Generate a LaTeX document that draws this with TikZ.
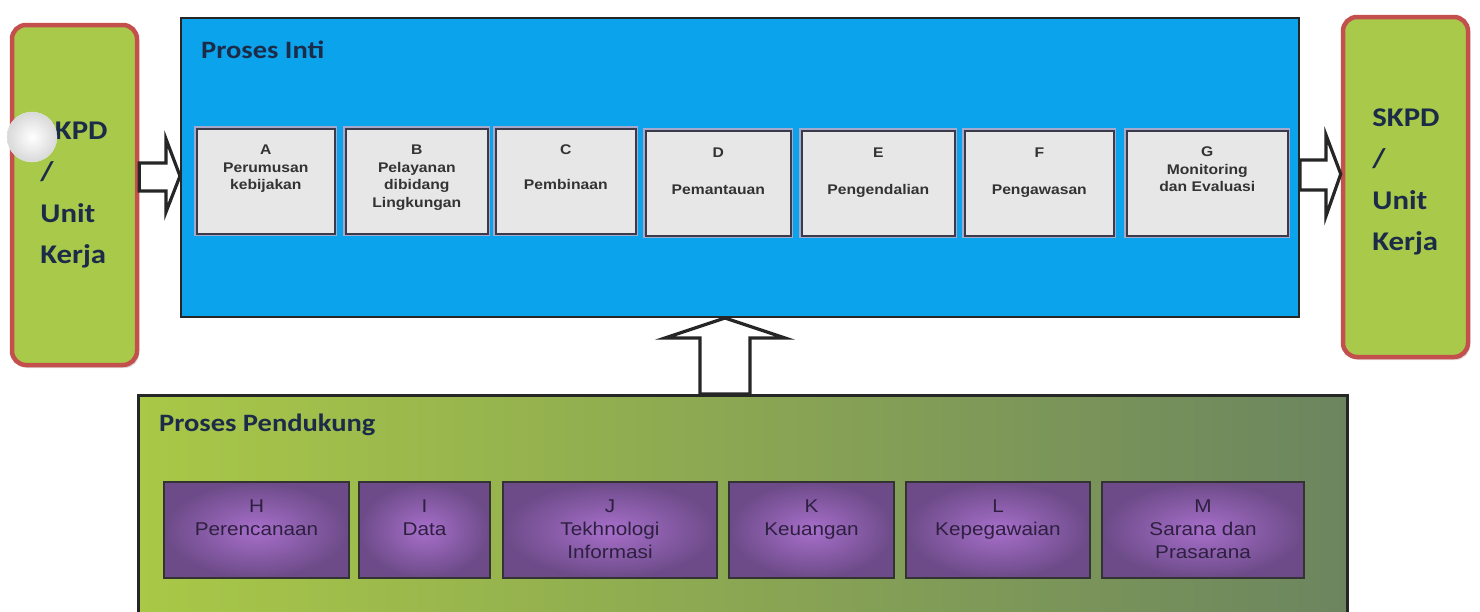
\documentclass[tikz,border=0pt]{standalone}
\usepackage{fontspec}
\setmainfont{Liberation Sans}
\newfontfamily\titlefont[FakeStretch=1.14]{Carlito}
\newfontfamily\boxfont[FakeStretch=1.12]{Liberation Sans}
\usetikzlibrary{calc,shadows}
\definecolor{lgreen}{HTML}{A9C94B}
\definecolor{lred}{HTML}{C4504E}
\definecolor{skyb}{HTML}{0BA3EC}
\definecolor{navy}{HTML}{1C2C48}
\definecolor{boxgray}{HTML}{E7E7E7}
\definecolor{boxedge}{HTML}{3A3A4A}
\definecolor{lav}{HTML}{A6A8CC}
\definecolor{purp}{HTML}{A86FCB}
\definecolor{purpdk}{HTML}{6C4B88}
\definecolor{ptext}{HTML}{2E2040}
\definecolor{pgreenL}{HTML}{A9C847}
\definecolor{pgreenR}{HTML}{6C855F}
\tikzset{
  sidebox/.style={rounded corners=14pt, draw=lred, line width=4.5pt, fill=lgreen,
    drop shadow={opacity=0.25, shadow xshift=2pt, shadow yshift=-3pt},
    minimum width=125, minimum height=340, inner sep=0pt},
  sidetext/.style={align=left, text=navy, font=\titlefont\bfseries\fontsize{27}{41.5}\selectfont, inner sep=0pt},
  titletext/.style={anchor=west, text=navy, font=\titlefont\bfseries\fontsize{25}{30}\selectfont, inner sep=0pt},
  pbox/.style={anchor=north west, draw=boxedge, line width=1.6pt, fill=boxgray,
    preaction={draw=lav, line width=5pt}, minimum height=105, inner sep=0pt},
  pboxtext/.style={anchor=north, align=center, text=black!80, inner sep=0pt,
    font=\boxfont\bfseries\fontsize{14}{17.5}\selectfont},
  qbox/.style={anchor=north west, draw=black!80, line width=2pt, inner color=purp, outer color=purpdk,
    minimum height=96, inner sep=0pt},
  qboxtext/.style={anchor=north, align=center, text=ptext, inner sep=0pt,
    font=\boxfont\fontsize{18.5}{23}\selectfont},
  blockarr/.style={draw=black!85, fill=white, line width=3.2pt, line join=miter}
}
\begin{document}
\begin{tikzpicture}[x=1pt,y=-1pt]
\useasboundingbox (0,0) rectangle (1480,611);
\fill[white] (0,0) rectangle (1480,611);

% support panel
\node[anchor=north west, draw=black!85, line width=2.5pt, left color=pgreenL, right color=pgreenR,
  minimum width=1209, minimum height=240, inner sep=0pt] (supp) at (137,394) {};
\node[titletext] (suppT) at (159,425) {Proses Pendukung};

% side boxes
\node[sidebox] (L) at (74.5,195) {};
\node[sidebox] (R) at (1405.5,187) {};
\node[sidetext] (Ltxt) at (74,195) {SKPD\\/\\Unit\\Kerja};
\node[sidetext] (Rtxt) at (1406,182) {SKPD\\/\\Unit\\Kerja};
\node[circle, minimum size=50, inner sep=0pt, inner color=white, outer color=gray!30, draw=gray!20] (dot) at (32,137) {};

% core box
\node[anchor=north west, draw=black!85, line width=2pt, fill=skyb,
  minimum width=1118, minimum height=299, inner sep=0pt] (core) at (180,17) {};
\node[titletext] (coreT) at (201,50) {Proses Inti};

% core process boxes
\node[pbox, minimum width=138] (A) at (196,128) {};
\node[pbox, minimum width=142] (B) at (345,128) {};
\node[pbox, minimum width=140] (C) at (495,128) {};
\node[pbox, minimum width=145] (D) at (645,130) {};
\node[pbox, minimum width=153] (E) at (801,130) {};
\node[pbox, minimum width=149] (F) at (964,130) {};
\node[pbox, minimum width=161] (G) at (1126,130) {};
\node[pboxtext] (At) at ($(A.north)+(0,17)$) {A\\Perumusan\\kebijakan};
\node[pboxtext] (Bt) at ($(B.north)+(0,17)$) {B\\Pelayanan\\dibidang\\Lingkungan};
\node[pboxtext] (Ct) at ($(C.north)+(0,17)$) {C\\[17pt]Pembinaan};
\node[pboxtext] (Dt) at ($(D.north)+(0,18)$) {D\\[19pt]Pemantauan};
\node[pboxtext] (Et) at ($(E.north)+(0,18)$) {E\\[19pt]Pengendalian};
\node[pboxtext] (Ft) at ($(F.north)+(0,18)$) {F\\[19pt]Pengawasan};
\node[pboxtext] (Gt) at ($(G.north)+(0,17)$) {G\\Monitoring\\dan Evaluasi};

% support process boxes
\node[qbox, minimum width=185] (H) at (163,481) {};
\node[qbox, minimum width=131] (I) at (358,481) {};
\node[qbox, minimum width=214] (J) at (502,481) {};
\node[qbox, minimum width=165] (K) at (728,481) {};
\node[qbox, minimum width=184] (Lb) at (905,481) {};
\node[qbox, minimum width=202] (M) at (1101,481) {};
\node[qboxtext] (Ht) at ($(H.north)+(0,19)$) {H\\Perencanaan};
\node[qboxtext] (It) at ($(I.north)+(0,19)$) {I\\Data};
\node[qboxtext] (Jt) at ($(J.north)+(0,19)$) {J\\Tekhnologi\\Informasi};
\node[qboxtext] (Kt) at ($(K.north)+(0,19)$) {K\\Keuangan};
\node[qboxtext] (Lt) at ($(Lb.north)+(0,19)$) {L\\Kepegawaian};
\node[qboxtext] (Mt) at ($(M.north)+(0,19)$) {M\\Sarana dan\\Prasarana};

% block arrows
\draw[blockarr] (L.east |- 0,163) -- (166,163) -- (166,139) -- (core.west |- 0,176)
  -- (166,212) -- (166,191) -- (L.east |- 0,191) -- cycle;
\draw[blockarr] (core.east |- 0,160) -- (1326,160) -- (1326,135) -- (R.west |- 0,174)
  -- (1326,216) -- (1326,190) -- (core.east |- 0,190) -- cycle;
\draw[blockarr] (700,0 |- supp.north) -- (700,338) -- (665,338) -- (725,0 |- core.south)
  -- (785,338) -- (750,338) -- (750,0 |- supp.north) -- cycle;
\end{tikzpicture}
\end{document}
